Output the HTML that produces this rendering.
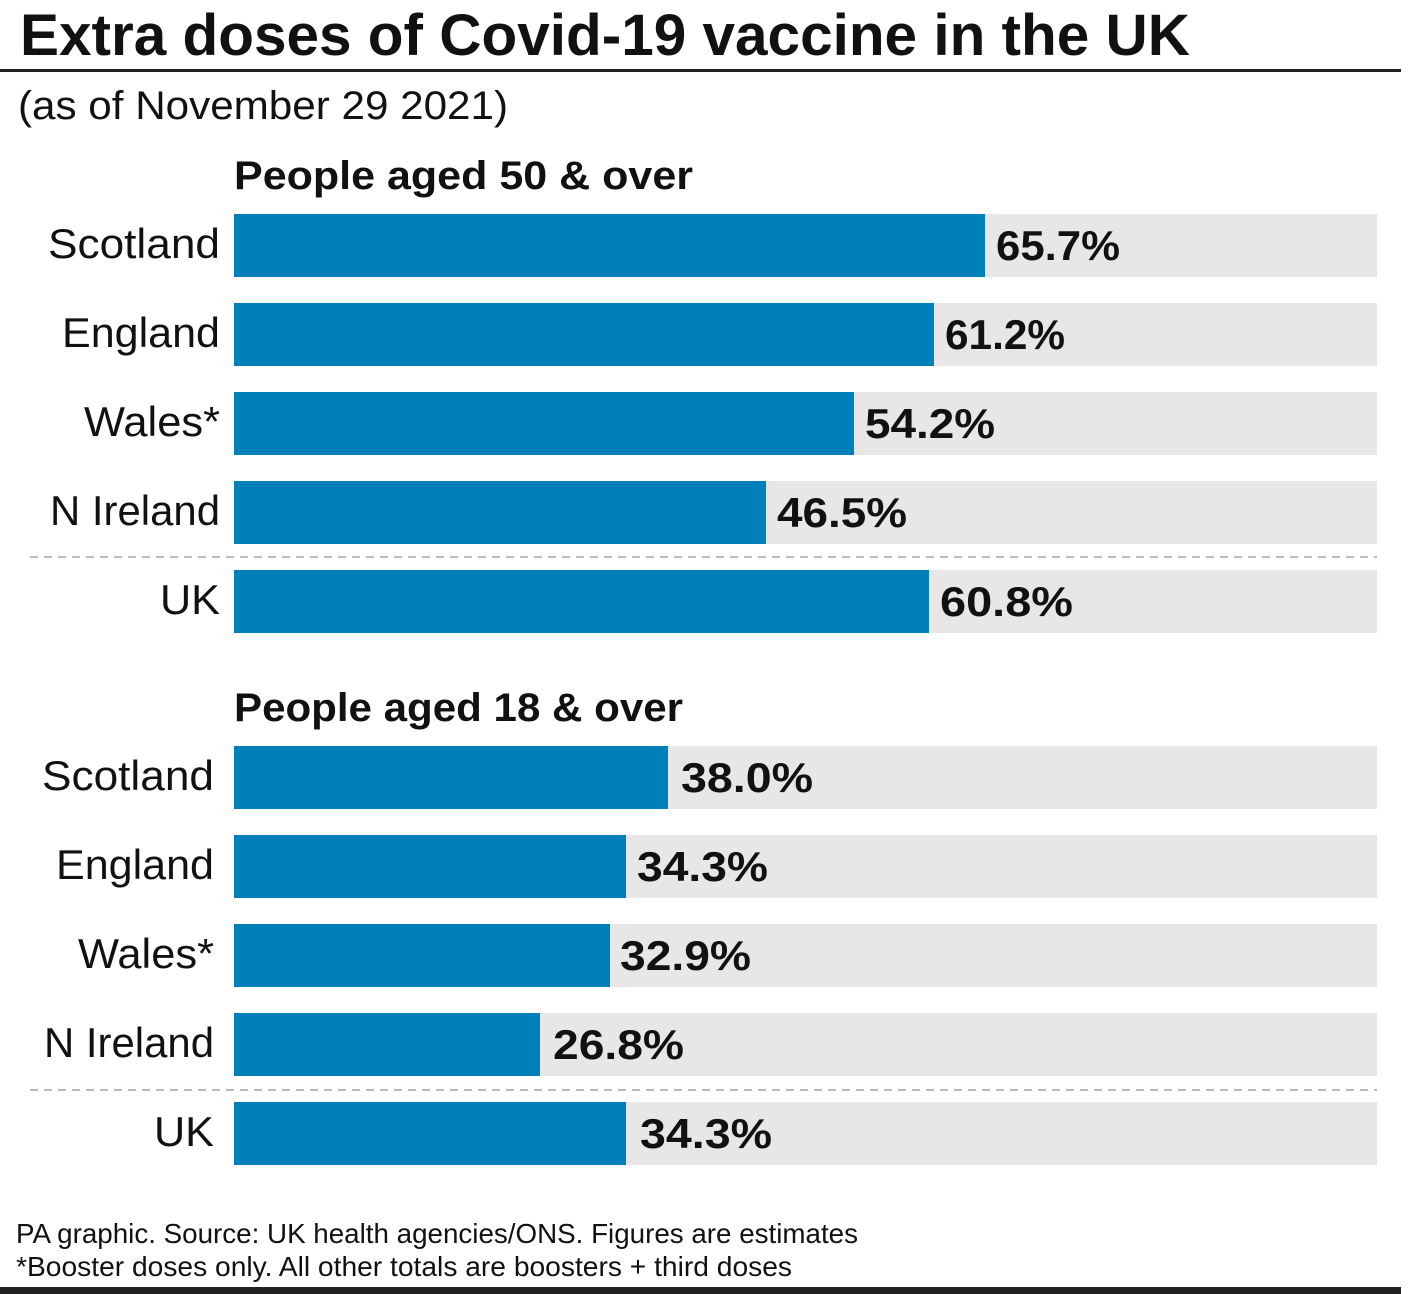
<!DOCTYPE html>
<html><head><style>
html,body{margin:0;padding:0;background:#fff;}
svg{display:block;font-family:"Liberation Sans",sans-serif;}
</style></head><body>
<svg width="1409" height="1294" viewBox="0 0 1409 1294">
<text x="20" y="55" font-size="58" font-weight="bold" fill="#111" textLength="1170" lengthAdjust="spacingAndGlyphs">Extra doses of Covid-19 vaccine in the UK</text>
<rect x="0" y="69" width="1401" height="3" fill="#222"/>
<text x="18" y="119" font-size="40" fill="#111" textLength="490" lengthAdjust="spacingAndGlyphs">(as of November 29 2021)</text>
<text x="234" y="189" font-size="40" font-weight="bold" fill="#111" textLength="459" lengthAdjust="spacingAndGlyphs">People aged 50 &amp; over</text>
<text x="234" y="721" font-size="40" font-weight="bold" fill="#111" textLength="449" lengthAdjust="spacingAndGlyphs">People aged 18 &amp; over</text>
<g fill="#e8e6e7">
<rect x="234" y="214" width="1143" height="63"/><rect x="234" y="303" width="1143" height="63"/><rect x="234" y="392" width="1143" height="63"/><rect x="234" y="481" width="1143" height="63"/><rect x="234" y="570" width="1143" height="63"/>
<rect x="234" y="746" width="1143" height="63"/><rect x="234" y="835" width="1143" height="63"/><rect x="234" y="924" width="1143" height="63"/><rect x="234" y="1013" width="1143" height="63"/><rect x="234" y="1102" width="1143" height="63"/>
</g>
<g fill="#0080bb">
<rect x="234" y="214" width="751" height="63"/><rect x="234" y="303" width="700" height="63"/><rect x="234" y="392" width="620" height="63"/><rect x="234" y="481" width="532" height="63"/><rect x="234" y="570" width="695" height="63"/>
<rect x="234" y="746" width="434" height="63"/><rect x="234" y="835" width="392" height="63"/><rect x="234" y="924" width="376" height="63"/><rect x="234" y="1013" width="306" height="63"/><rect x="234" y="1102" width="392" height="63"/>
</g>
<line x1="30" y1="557" x2="1377" y2="557" stroke="#bbb" stroke-width="2" stroke-dasharray="8,6"/>
<line x1="30" y1="1090" x2="1377" y2="1090" stroke="#bbb" stroke-width="2" stroke-dasharray="8,6"/>
<g font-size="42" fill="#111" text-anchor="end">
<text x="220" y="258" textLength="172" lengthAdjust="spacingAndGlyphs">Scotland</text>
<text x="220" y="347" textLength="158" lengthAdjust="spacingAndGlyphs">England</text>
<text x="220" y="436" textLength="136" lengthAdjust="spacingAndGlyphs">Wales*</text>
<text x="220" y="525" textLength="170" lengthAdjust="spacingAndGlyphs">N Ireland</text>
<text x="220" y="614" textLength="60" lengthAdjust="spacingAndGlyphs">UK</text>
<text x="214" y="790" textLength="172" lengthAdjust="spacingAndGlyphs">Scotland</text>
<text x="214" y="879" textLength="158" lengthAdjust="spacingAndGlyphs">England</text>
<text x="214" y="968" textLength="136" lengthAdjust="spacingAndGlyphs">Wales*</text>
<text x="214" y="1057" textLength="170" lengthAdjust="spacingAndGlyphs">N Ireland</text>
<text x="214" y="1146" textLength="60" lengthAdjust="spacingAndGlyphs">UK</text>
</g>
<g font-size="42" font-weight="bold" fill="#111">
<text x="996" y="260" textLength="124" lengthAdjust="spacingAndGlyphs">65.7%</text>
<text x="945" y="349" textLength="120" lengthAdjust="spacingAndGlyphs">61.2%</text>
<text x="865" y="438" textLength="130" lengthAdjust="spacingAndGlyphs">54.2%</text>
<text x="777" y="527" textLength="130" lengthAdjust="spacingAndGlyphs">46.5%</text>
<text x="940" y="616" textLength="133" lengthAdjust="spacingAndGlyphs">60.8%</text>
<text x="681" y="792" textLength="132" lengthAdjust="spacingAndGlyphs">38.0%</text>
<text x="637" y="881" textLength="131" lengthAdjust="spacingAndGlyphs">34.3%</text>
<text x="620" y="970" textLength="131" lengthAdjust="spacingAndGlyphs">32.9%</text>
<text x="553" y="1059" textLength="131" lengthAdjust="spacingAndGlyphs">26.8%</text>
<text x="640" y="1148" textLength="132" lengthAdjust="spacingAndGlyphs">34.3%</text>
</g>
<text x="16" y="1243" font-size="28" fill="#111" textLength="842" lengthAdjust="spacingAndGlyphs">PA graphic. Source: UK health agencies/ONS. Figures are estimates</text>
<text x="16" y="1276" font-size="28" fill="#111" textLength="776" lengthAdjust="spacingAndGlyphs">*Booster doses only. All other totals are boosters + third doses</text>
<rect x="0" y="1287" width="1401" height="7" fill="#222"/>
</svg>
</body></html>
